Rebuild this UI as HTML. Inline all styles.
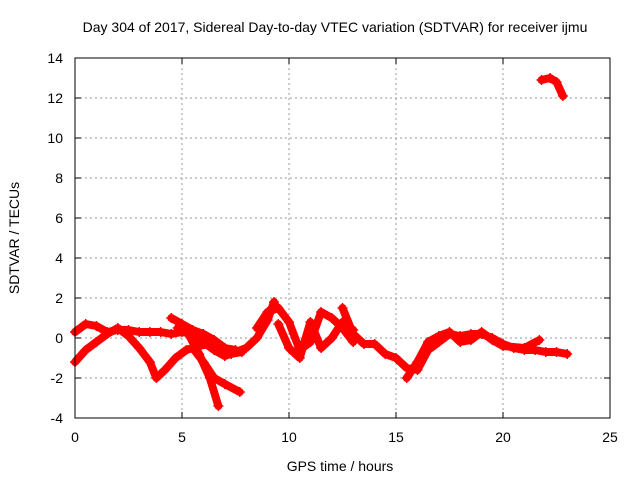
<!DOCTYPE html>
<html><head><meta charset="utf-8"><style>
body{margin:0;background:#fff}
svg{display:block;font-family:"Liberation Sans",sans-serif}
</style></head><body>
<svg id="chart" width="640" height="480">
<text x="335" y="32" text-anchor="middle" font-size="14">Day 304 of 2017, Sidereal Day-to-day VTEC variation (SDTVAR) for receiver ijmu</text>
<text x="340" y="471" text-anchor="middle" font-size="14">GPS time / hours</text>
<text transform="translate(19,238) rotate(-90)" text-anchor="middle" font-size="14">SDTVAR / TECUs</text>
<g id="grid"></g><g id="ticks"></g><g id="series"></g>
<rect x="75" y="58" width="535" height="360" fill="none" stroke="#000" stroke-width="1"/>
</svg>
<script>
const xTicks=[0,5,10,15,20,25];
const yTicks=[-4,-2,0,2,4,6,8,10,12,14];
const trackA=[[0,0.3],[0.5,0.7],[1,0.6],[1.5,0.3],[2,0.4],[2.5,0.4],[3,0.3],[3.5,0.3],[4,0.3],[4.5,0.2],[5,0.3],[5.5,0.2],[6,-0.2],[6.5,-0.6],[7,-0.9],[7.5,-0.7],[8,-0.5],[8.5,0],[9,0.9],[9.3,1.8]];
const trackB=[[0,-1.2],[0.5,-0.6],[1,-0.2],[1.5,0.2],[2,0.5],[2.5,0.1],[3,-0.5],[3.5,-1.2],[3.8,-2],[4.2,-1.6],[4.7,-1],[5.2,-0.6],[5.8,-0.4],[6.3,-0.3],[6.8,-0.5],[7.3,-0.8],[7.8,-0.7]];
const trackC=[[4.5,1.0],[5,0.7],[5.5,0.4],[6,0.2],[6.5,-0.1],[7,-0.5],[7.5,-0.6]];
const trackC2=[[4.8,0.5],[5.3,0.2],[5.8,-0.8],[6.3,-2],[6.7,-3.4]];
const trackD=[[5.5,-0.5],[6,-1.2],[6.5,-2],[7,-2.3],[7.7,-2.7]];
const trackE=[[8.5,0.5],[9,1.3],[9.5,1.5],[10,0.8],[10.5,-0.6],[11,-0.2],[11.5,1.3],[12,1.0],[12.5,0.5],[13,-0.2]];
const trackF=[[9.5,0.7],[10,-0.5],[10.5,-1],[11,0.8],[11.5,-0.5],[12,0],[12.5,0.8],[13,0.4]];
const trackG=[[12.5,1.5],[13,0.2],[13.5,-0.3],[14,-0.3],[14.5,-0.8],[15,-1],[15.5,-1.5],[16,-1.6],[16.5,-0.6],[17,-0.2],[17.5,0.2],[18,0.1],[18.5,0.2],[19,0.2],[19.5,0],[20,-0.3],[20.5,-0.5],[21,-0.6],[21.5,-0.6],[22,-0.7],[22.5,-0.7],[23,-0.8]];
const trackH=[[15.5,-2],[16,-1.2],[16.5,-0.2],[17,0.1],[17.5,0.3],[18,-0.2],[18.5,-0.1],[19,0.3],[19.5,-0.1],[20,-0.4],[21,-0.5],[21.7,-0.1]];
const trackI=[[21.8,12.9],[22.2,13],[22.5,12.8],[22.8,12.1]];
const tracks=[trackA,trackB,trackC,trackC2,trackD,trackE,trackF,trackG,trackH,trackI];
const NS='http://www.w3.org/2000/svg';
const X=t=>75+t*535/25, Y=v=>418-(v+4)*360/18;
function mk(tag,at,p){const e=document.createElementNS(NS,tag);for(const k in at)e.setAttribute(k,at[k]);p.appendChild(e);return e;}
const g=document.getElementById('grid'),tk=document.getElementById('ticks'),s=document.getElementById('series');
xTicks.forEach(t=>{const x=X(t);
 if(t>0&&t<25){const l=mk('line',{x1:x,x2:x,y1:58,y2:418,stroke:'#999','stroke-dasharray':'2,3'},g);
 
 }
 mk('line',{x1:x,x2:x,y1:418,y2:412,stroke:'#000'},tk);mk('line',{x1:x,x2:x,y1:58,y2:64,stroke:'#000'},tk);
 const tx=mk('text',{x:x,y:442,'text-anchor':'middle','font-size':14},tk);tx.textContent=t;
 
 });
yTicks.forEach(v=>{const y=Y(v);
 if(v>-4&&v<14){const l=mk('line',{x1:75,x2:610,y1:y,y2:y,stroke:'#999','stroke-dasharray':'2,3'},g);
 
 }
 mk('line',{x1:75,x2:81,y1:y,y2:y,stroke:'#000'},tk);mk('line',{x1:610,x2:604,y1:y,y2:y,stroke:'#000'},tk);
 const tx=mk('text',{x:63,y:y+5,'text-anchor':'end','font-size':14},tk);tx.textContent=v;
 
 });
tracks.forEach(tr=>{
 const pl=mk('polyline',{points:tr.map(p=>X(p[0])+','+Y(p[1])).join(' '),fill:'none',stroke:'#f00','stroke-width':8,'stroke-linejoin':'round','stroke-linecap':'round'},s);
 
 
 tr.forEach(p=>{const x=X(p[0]),y=Y(p[1]);
  const m=mk('path',{d:`M${x-5},${y}H${x+5}M${x},${y-5}V${y+5}`,stroke:'#f00','stroke-width':1.5},s);
  
  });
});
</script>
</body></html>
